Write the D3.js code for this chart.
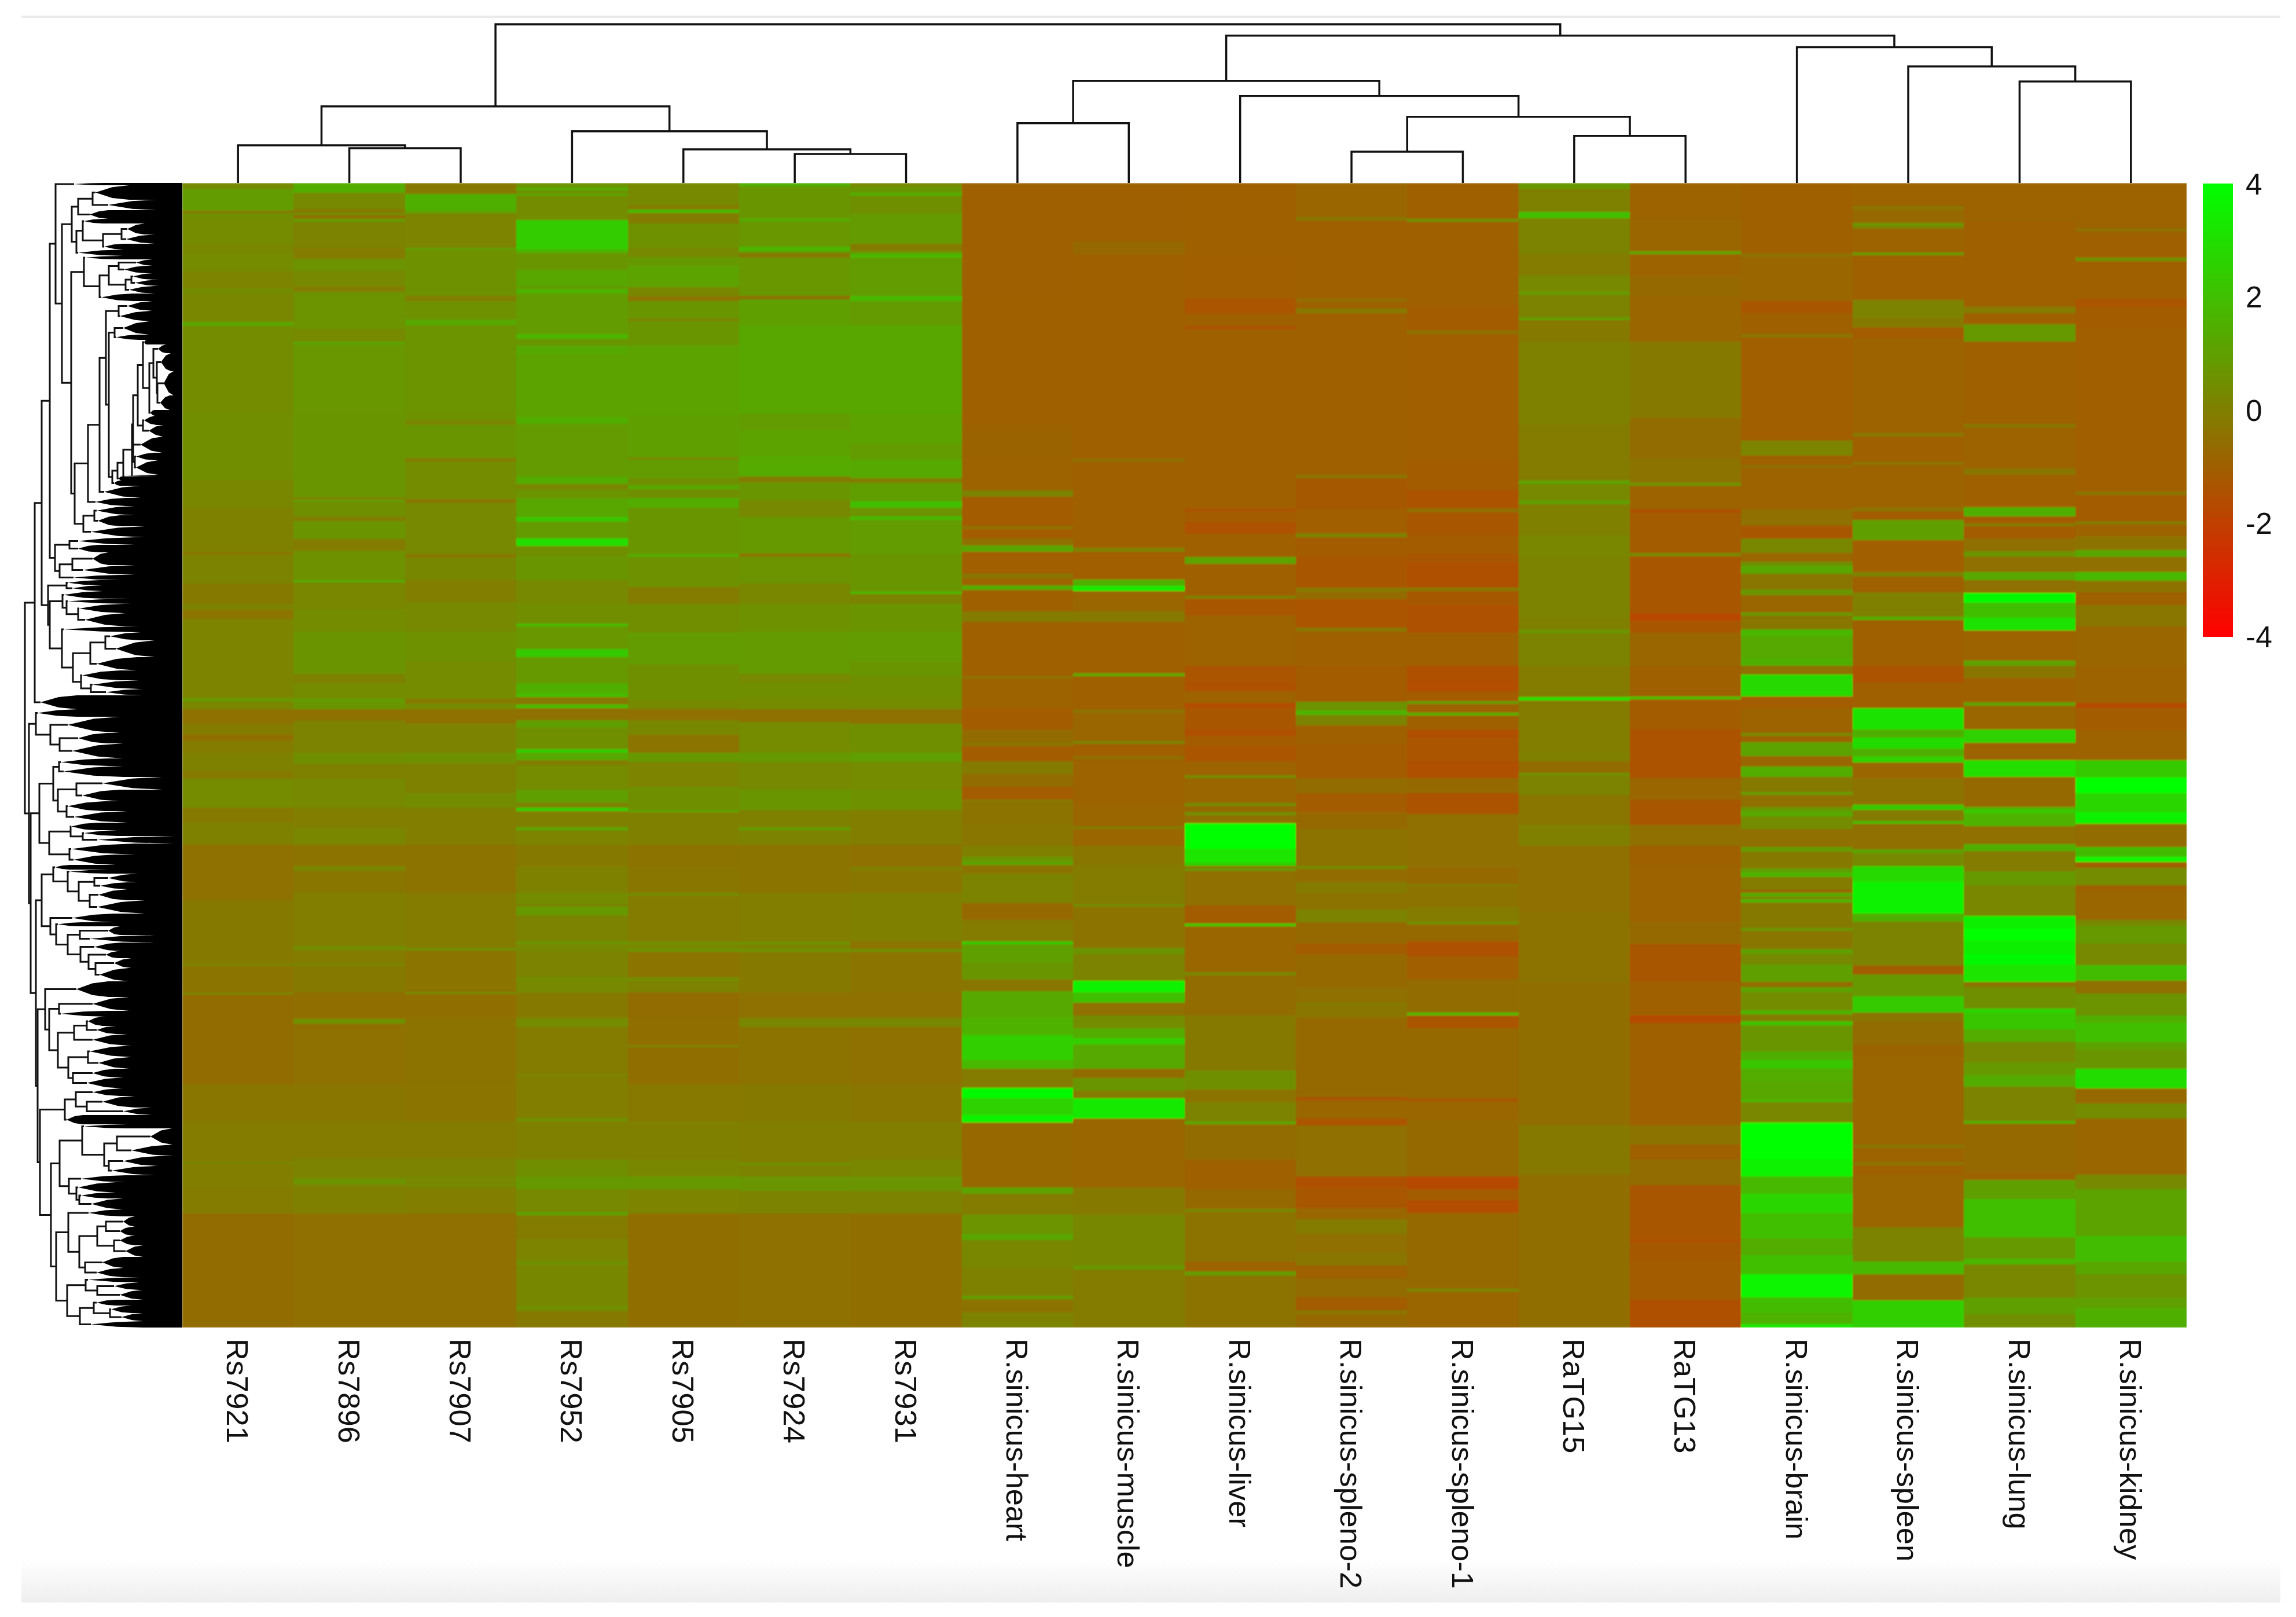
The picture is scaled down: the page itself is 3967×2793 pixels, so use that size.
<!DOCTYPE html>
<html>
<head>
<meta charset="utf-8">
<script src="https://cdn.jsdelivr.net/npm/d3@7"></script>
<style>
html, body { margin: 0; padding: 0; background: #fff; }
text { font-family: "Liberation Sans", Arial, sans-serif; fill: #111; }
</style>
</head>
<body>
<div id="chart"></div>
<script>
var columnNames = ["Rs7921", "Rs7896", "Rs7907", "Rs7952", "Rs7905", "Rs7924", "Rs7931",
    "R.sinicus-heart", "R.sinicus-muscle", "R.sinicus-liver", "R.sinicus-spleno-2", "R.sinicus-spleno-1",
    "RaTG15", "RaTG13", "R.sinicus-brain", "R.sinicus-spleen", "R.sinicus-lung", "R.sinicus-kidney"];
var legendTicks = [4, 2, 0, -2, -4];

// column tree: [height, left, right], a plain number is a column index
var columnTree = [273.5,
    [132, [65, 0, [60, 1, 2]], [89, 3, [58, 4, [50, 5, 6]]]],
    [254,
        [176, [103, 7, 8], [150, 9, [114, [54, 10, 11], [81, 12, 13]]]],
        [234, 14, [201, 15, [175, 16, 17]]]]];

// row tree: [height, a, b], a leaf cluster is [firstRow, lastRow, tipHeight, solidHeight]
var rowTreeA = [255,
    [243,
        [229,
            [219, [0, 4, 187, 135],
                [208,
                    [191,
                        [180, [155, [4, 29, 150, 92], [29, 47, 128, 45]], [47, 62, 160, 128]],
                        [183, [172, [62, 70, 170, 138], [137, [105, [70, 89, 95, 65], [89, 105, 97, 48]], [105, 115, 135, 102]]], [115, 126, 180, 102]]],
                    [192,
                        [170, [126, 132, 168, 108],
                            [143,
                                [127,
                                    [110, [132, 143, 80, 52], [143, 156, 100, 62]],
                                    [98, [88, [156, 167, 85, 52], [167, 178, 82, 40]], [178, 191, 92, 48]]],
                                [191, 204, 140, 85]]],
                        [186,
                            [163,
                                [143,
                                    [132,
                                        [110, [204, 221, 95, 52], [221, 239, 108, 55]],
                                        [127,
                                            [117, [239, 262, 102, 58], [262, 271, 115, 75]],
                                            [121,
                                                [112,
                                                    [102,
                                                        [87,
                                                            [85,
                                                                [77,
                                                                    [68, [271, 279, 66, 62],
                                                                        [57,
                                                                            [50, [279, 294, 42, 28], [44, [294, 325, 37, 20], [43, [325, 367, 32, 15], [367, 392, 38, 22]]]],
                                                                            [392, 402, 55, 48]]],
                                                                    [68, [402, 418, 66, 45], [418, 438, 58, 33]]],
                                                                [85, [438, 466, 72, 35], [82, [466, 479, 80, 48], [479, 504, 80, 42]]]],
                                                            [504, 505, 86, 42]],
                                                        [505, 507, 100, 42]],
                                                    [507, 514, 110, 105]],
                                                [514, 523, 118, 108]]]],
                                    [523, 544, 135, 72]],
                                [544, 558, 150, 98]],
                            [171, [152, [558, 574, 148, 82], [574, 593, 146, 108]], [593, 612, 158, 65]]]]]],
            [220,
                [195, [612, 625, 180, 82], [625, 638, 180, 144]],
                [212, [190, [638, 660, 155, 128], [660, 677, 172, 82]], [677, 686, 188, 108]]]],
        [232,
            [200, [686, 695, 198, 142], [695, 705, 190, 138]],
            [229,
                [207, [705, 718, 205, 138], [200, [718, 727, 198, 88], [180, [727, 743, 178, 102], [743, 766, 168, 98]]]],
                [208, [766, 776, 205, 75],
                    [189,
                        [159, [133, [776, 790, 125, 72], [790, 819, 115, 48]], [819, 842, 148, 78]],
                        [175, [842, 859, 173, 108], [158, [859, 874, 155, 75], [874, 885, 132, 68]]]]]]]],
    [885, 909, 245, 182]];

var rowTreeC = [253, [909, 922, 250, 182],
    [228, [922, 950, 198, 108], [212, [950, 968, 180, 130], [968, 994, 190, 102]]]];

var rowTreeE = [247,
    [223,
        [213, [994, 1007, 210, 128], [1007, 1026, 205, 102]],
        [215,
            [183, [1026, 1048, 138, 35], [1048, 1068, 173, 108]],
            [200, [1068, 1085, 198, 135], [1085, 1105, 187, 95]]]],
    [230,
        [193, [1105, 1118, 192, 148], [172, [1118, 1128, 170, 112], [1128, 1141, 147, 15]]],
        [195, [1141, 1160, 192, 82], [1160, 1178, 188, 115]]]];

var rowTreeG = [243,
    [223, [1178, 1186, 220, 195],
        [198, [1186, 1193, 195, 128],
            [179,
                [152, [1193, 1208, 128, 77], [1208, 1220, 142, 95]],
                [160, [1220, 1239, 145, 95], [1239, 1262, 147, 65]]]]],
    [228, [1262, 1277, 190, 118],
        [218, [1277, 1284, 215, 175],
            [198,
                [177, [1284, 1299, 128, 108], [1299, 1312, 160, 48]],
                [176, [1312, 1327, 152, 105],
                    [162, [1327, 1339, 132, 112], [150, [1339, 1356, 118, 88], [1356, 1379, 143, 93]]]]]]]];

var rowTreeI = [237, [1379, 1406, 183, 128],
    [230,
        [213, [1406, 1430, 155, 92], [1430, 1440, 210, 132]],
        [215,
            [187, [165, [1440, 1456, 163, 138], [1456, 1470, 148, 115]], [1470, 1490, 155, 95]],
            [197,
                [163, [1490, 1510, 160, 87], [1510, 1530, 145, 92]],
                [189, [1530, 1545, 155, 115], [1545, 1564, 165, 102]]]]]];

var rowTreeK = [203,
    [184, [1564, 1577, 155, 108], [165, [1577, 1597, 138, 82], [1597, 1610, 102, 52]]],
    [1610, 1626, 200, 172]];

var rowTreeM = [212,
    [173, [1626, 1633, 170, 95],
        [135,
            [113, [1633, 1661, 55, 18], [1661, 1681, 88, 15]],
            [127, [1681, 1698, 102, 42], [1698, 1714, 122, 48]]]],
    [196, [1714, 1726, 175, 98],
        [183, [1726, 1744, 180, 115], [178, [1744, 1754, 175, 128], [1754, 1773, 157, 102]]]]];

var rowTreeN = [218,
    [197, [1773, 1785, 162, 105],
        [178,
            [147,
                [132, [1785, 1803, 102, 82], [1803, 1818, 108, 88]],
                [118, [1818, 1835, 108, 82], [1835, 1855, 98, 68]]],
            [168, [1855, 1874, 138, 102], [1874, 1890, 148, 102]]]],
    [199,
        [167, [1890, 1899, 163, 75], [147, [1899, 1912, 118, 75], [1912, 1929, 108, 68]]],
        [177,
            [153, [1929, 1939, 148, 115], [125, [1939, 1952, 123, 88], [1952, 1966, 105, 68]]],
            [1966, 1977, 158, 68]]]];

var rowTree = [272, rowTreeA,
    [265, rowTreeC,
        [262, rowTreeE,
            [253, rowTreeG,
                [250, rowTreeI,
                    [246, rowTreeK, [227, rowTreeM, rowTreeN]]]]]]];

// heat bands, [row position, value]; each band runs to the next one
// the seven Rs columns are read with a split at one row, the others with a split at another
var rs7921Upper = [[25,.3],[40,.9],[100,-.3],[106,.5],[120,.35],[190,.2],[215,.35],[265,.15],[310,.4],[325,.2],[402,1.2],[412,.4],[650,.45],[830,.2],[905,.05],[1025,-.4],[1032,.1],[1110,-.2],[1165,.1],[1180,-.35],[1205,.15],[1320,.15],[1420,.9],[1428,.2],[1450,-.45],[1490,-.1],[1520,-.55],[1535,-.1]];
var rs7921Lower = [[0,.05],[50,-.2],[70,.35],[150,-.2],[190,.05],[250,-.45],[400,-.2],[573,.3],[578,-.35],[652,.3],[657,-.6],[900,-.3],[1000,-.1],[1110,.3],[1116,-.05],[1180,-.15],[1250,-.6]];
var rs7896Upper = [[25,1.4],[52,.3],[95,-.2],[105,.3],[113,-.5],[122,1],[130,.1],[200,-.15],[230,.6],[262,.3],[305,-.15],[320,.6],[420,.3],[455,1.1],[463,.75],[650,.7],[878,-.4],[883,1.2],[888,.5],[930,-.1],[940,.65],[990,-.1],[1020,.55],[1100,1.4],[1107,.2],[1180,.4],[1240,.65],[1355,.05],[1380,.4],[1422,1],[1430,.7],[1450,-.45],[1482,.1]];
var rs7896Lower = [[0,.5],[30,.05],[70,.3],[150,-.05],[205,.2],[250,-.4],[308,.25],[320,-.3],[380,-.05],[525,.45],[535,-.1],[570,.1],[580,-.2],[650,-.55],[722,.6],[735,-.45],[900,-.3],[1000,-.1],[1100,.1],[1155,.6],[1172,.1],[1180,0],[1250,-.5]];
var rs7907Upper = [[25,-.2],[55,1.5],[100,1],[108,.15],[200,.9],[208,.55],[330,-.05],[345,.55],[395,1.3],[410,.6],[650,.55],[668,.2],[680,.7],[770,-.1],[780,.4],[882,-.45],[890,.3],[1030,-.3],[1040,.25],[1100,-.05],[1160,.3],[1240,.55],[1320,.35],[1422,-.25],[1435,.35],[1450,-.45],[1490,.1]];
var rs7907Lower = [[0,.55],[30,.05],[110,.4],[150,-.05],[250,-.4],[380,-.1],[530,.5],[537,-.35],[650,.5],[655,-.55],[720,-.4],[900,-.35],[1000,-.1],[1100,.1],[1150,.3],[1180,-.05],[1250,-.5]];
var rs7952Upper = [[25,.6],[38,1.4],[46,.5],[54,1.2],[60,.4],[125,2.4],[205,1.6],[215,.7],[260,1.2],[305,.8],[312,1.6],[325,.9],[435,1.7],[447,.7],[465,1.3],[490,1.1],[660,1.5],[678,.85],[820,1.4],[840,.2],[855,.6],[878,1.2],[930,2.2],[942,.85],[988,3],[1008,.5],[1035,.7],[1100,.3],[1165,.45],[1218,1.8],[1226,.75],[1288,2.3],[1310,.8],[1380,1.5],[1410,2],[1418,-.25],[1438,2],[1448,-.45],[1480,1],[1500,.5],[1558,2.4]];
var rs7952Lower = [[0,1.3],[20,-.05],[35,.35],[100,1],[135,.1],[150,2.4],[158,0],[202,1.3],[210,.15],[250,-.2],[310,.05],[380,.4],[410,.1],[418,.8],[442,.1],[512,.8],[518,.3],[540,.1],[610,.4],[620,.3],[650,-.2],[720,.35],[745,-.1],[870,.1],[880,-.05],[992,.55],[1000,0],[1105,.5],[1150,.8],[1185,.3],[1248,1.2],[1255,-.1],[1320,.15],[1378,.5],[1390,.25],[1500,.5],[1515,-.2]];
var rs7905Upper = [[25,.3],[85,-.1],[97,1.8],[107,-.1],[135,.55],[200,.3],[225,.8],[250,1.1],[308,.2],[332,-.4],[345,.7],[392,.1],[400,.7],[465,1.1],[655,1],[768,.2],[775,.9],[825,.5],[843,1.3],[855,.5],[878,1.4],[905,.7],[1030,1.4],[1038,.55],[1120,-.1],[1165,.45],[1243,1],[1250,.9],[1330,.5],[1425,.3],[1450,-.5],[1480,.25],[1520,-.35]];
var rs7905Lower = [[0,.8],[25,.15],[95,.6],[102,.5],[155,1.1],[162,0],[250,-.4],[310,-.3],[380,.4],[388,-.1],[513,.65],[520,.2],[533,.65],[540,-.35],[610,.4],[620,.1],[650,-.6],[720,-.55],[793,.15],[800,-.55],[900,-.25],[1000,0],[1105,.2],[1150,.8],[1185,.15],[1250,-.55]];
var rs7924Upper = [[25,1.5],[35,.7],[120,1.3],[130,.75],[198,1.7],[210,.75],[215,-.2],[228,.75],[330,-.45],[340,1],[410,1.2],[650,.9],[695,1.1],[765,1.35],[820,-.1],[835,.7],[885,.3],[930,.8],[1028,-.35],[1038,.6],[1110,.2],[1165,.55],[1240,.85],[1355,.3],[1380,.5],[1420,.35],[1450,-.45],[1485,.35]];
var rs7924Lower = [[0,.8],[25,.3],[100,.7],[155,.05],[203,1],[210,.1],[250,-.35],[380,-.05],[513,.65],[520,.1],[532,.65],[540,-.2],[650,-.45],[720,.2],[745,-.4],[900,-.2],[1000,-.05],[1113,.55],[1120,.1],[1150,.7],[1190,.1],[1250,-.45]];
var rs7931Upper = [[25,.2],[35,.7],[52,1.5],[60,.5],[110,.85],[190,-.1],[210,.9],[218,1.8],[228,.9],[330,1.8],[345,.85],[410,1.25],[650,1.1],[730,.9],[775,1.3],[825,-.1],[838,.95],[888,2],[905,.6],[928,1.8],[937,.9],[1030,.7],[1132,1.8],[1139,.1],[1165,.65],[1240,.9],[1320,.7],[1360,.5],[1420,.4],[1450,-.45],[1490,.5]];
var rs7931Lower = [[0,1],[25,.35],[100,.55],[155,-.05],[250,-.45],[310,0],[320,-.3],[380,0],[510,-.35],[532,.55],[540,-.35],[650,-.45],[720,.25],[745,-.45],[900,-.3],[1000,-.05],[1105,.2],[1150,.65],[1190,.1],[1250,-.55]];

var heartUpper = [[432,-.95],[700,-1],[1000,-.85],[1080,-.9],[1155,.1],[1170,-1.1],[1240,-.4],[1246,-1.15],[1268,-.5],[1285,1.2],[1300,-1.05],[1352,-.3],[1362,-.9],[1378,1.4],[1390,-.9],[1395,-1],[1440,-.1],[1465,-1]];
var heartLower = [[0,-1],[25,-.4],[30,-.9],[100,-1.15],[150,-.6],[180,-.4],[190,-1.15],[225,-.1],[255,-.6],[285,-1.15],[315,-.2],[320,-.4],[375,-.3],[425,0],[450,.7],[463,1.2],[470,-.4],[490,.1],[560,-.7],[600,-.1],[650,2.3],[657,1],[700,.7],[740,-.3],[768,1.3],[830,1.6],[872,2.5],[930,1.8],[950,-.1],[995,3.8],[1020,2.6],[1060,3.6],[1078,-.75],[1230,1.1],[1245,-.1],[1295,.6],[1340,1.2],[1355,.2],[1420,.05],[1486,1],[1494,-.4],[1525,.1]];
var muscleUpper = [[432,-.95],[570,-.7],[600,-1],[1080,-.5],[1088,-1],[1290,.1],[1300,-1.05],[1365,1.5],[1380,3.3],[1392,-.8],[1440,-.2],[1465,-1]];
var muscleLower = [[0,-1],[18,1.3],[24,-1],[104,-.3],[110,-.8],[178,.1],[185,-1.05],[213,-.5],[220,-.9],[330,-.8],[378,-.1],[385,-.8],[425,-.3],[470,-.1],[562,.5],[568,-.4],[665,.6],[680,.1],[743,3.6],[770,2],[795,-.5],[825,.4],[855,1.4],[878,2.5],[893,1.3],[950,-.6],[973,.7],[1003,-.1],[1020,3.3],[1068,-.8],[1230,-.2],[1295,.25],[1415,.8],[1425,-.1]];
var liverUpper = [[432,-1],[600,-1.05],[705,-1.35],[740,-1],[768,-1.4],[776,-1],[1150,-1],[1198,-1.4],[1205,-1.1],[1230,-1.45],[1258,-1],[1312,1.1],[1328,-1],[1403,.1],[1410,-1.3],[1450,-.9]];
var liverLower = [[0,-1.35],[40,-1.45],[60,-.9],[88,-1.6],[100,-1.3],[150,-1.5],[165,-1.15],[190,-1.35],[225,-.9],[258,.4],[265,-.8],[323,.5],[330,-.7],[346,.6],[353,-.5],[372,4],[432,3.2],[465,2.4],[473,-.5],[478,1],[484,-.5],[565,-1.1],[608,2.2],[615,-.8],[723,.2],[730,-.6],[825,-.2],[955,.5],[1000,-.4],[1030,.1],[1075,1.2],[1082,-.6],[1165,-1],[1235,-.7],[1281,.3],[1288,-.4],[1405,-.9],[1428,.9],[1438,-.4]];
var spleno2Upper = [[432,-.8],[513,-.2],[520,-1],[703,-.6],[712,-1],[728,-.2],[738,-1],[1118,-.3],[1126,-1.2],[1200,-1.05],[1256,.1],[1266,-1.1],[1310,-1.3],[1384,-.2],[1394,-.6],[1412,-1.35],[1478,-.3],[1488,-1]];
var spleno2Lower = [[0,-1.1],[85,.6],[105,1.6],[116,.1],[140,-1],[185,-1.15],[265,-.6],[300,-1.15],[345,-.7],[385,-.4],[473,.4],[480,-.6],[510,-.1],[535,-.4],[575,.1],[605,-.7],[655,-1.15],[680,-.7],[760,-.5],[795,-.1],[800,-.3],[830,-.7],[1018,-1.35],[1025,-.8],[1068,-1.35],[1085,-.5],[1205,-1.5],[1230,-1.3],[1280,-.8],[1305,-.1],[1340,-.5],[1385,-.3],[1415,-1],[1445,-.6],[1490,-1.1],[1520,-.3],[1530,-.7]];
var spleno1Upper = [[432,-1],[517,.6],[523,-1],[720,-1.15],[780,-.4],[788,-1.05],[1080,-1.15],[1155,-1.4],[1198,-.5],[1207,-1.3],[1262,-1.15],[1305,-1.3],[1325,-1.5],[1384,-.2],[1392,-1.2],[1425,-1.45],[1490,-1]];
var spleno1Lower = [[0,-1.5],[35,-1.6],[60,-1.1],[83,.9],[90,-.9],[110,1.5],[118,-1],[150,-1.5],[170,-1.35],[225,-1.5],[265,-.7],[300,-1.4],[350,-.5],[475,-.7],[515,-.1],[520,-.4],[570,-.1],[603,.5],[610,-.7],[650,-1.45],[685,-1.05],[740,-.6],[818,1.8],[825,-1.35],[855,-.7],[1020,-1.2],[1028,-.8],[1070,-.7],[1205,-1.7],[1235,-1.15],[1260,-1.6],[1290,-.7],[1469,.2],[1476,-.8]];
var ratg15Upper = [[432,.8],[445,.05],[500,2],[515,.1],[600,-.1],[650,.3],[688,.9],[695,.1],[748,1],[755,-.2],[805,.05],[1000,-.1],[1132,1.1],[1140,.3],[1178,1],[1188,0],[1260,.2],[1310,.1],[1455,0],[1484,.7],[1492,.1]];
var ratg15Lower = [[0,-.15],[74,3],[82,-.1],[130,-.05],[205,0],[225,-.6],[252,.6],[258,.1],[305,-.3],[375,0],[425,-.5],[580,-.4],[745,-.55],[1085,-.2],[1200,-.55]];
var ratg13Upper = [[432,-.9],[518,-.8],[593,1.2],[600,-.9],[650,-.7],[700,-.8],[805,-.2],[985,-.6],[1080,-.4],[1138,.7],[1145,-.9],[1200,-1.5],[1208,-1.1],[1303,.3],[1310,-1.3],[1445,-1.8],[1462,-1.3],[1490,-.8]];
var ratg13Lower = [[0,-1],[72,2],[79,-1.15],[150,-1.4],[265,-.8],[315,-1.3],[375,-.5],[425,-1],[470,-.9],[605,-.7],[655,-1.3],[745,-1],[825,-1.7],[842,-1],[1085,-.4],[1130,-1],[1165,-.6],[1225,-1.3],[1353,-1.5],[1360,-1.2],[1405,-1.15],[1495,-1.5]];
var brainUpper = [[432,-1],[598,-.4],[606,-.8],[710,-1.3],[738,-1],[788,-.3],[796,-1.05],[1038,.15],[1073,-1],[1095,-.5],[1102,-.9],[1200,-.5],[1238,-1.3],[1268,.2],[1303,-.8],[1323,.5],[1332,1.2],[1352,-.3],[1388,.7],[1402,-.8],[1443,.9],[1450,-.3],[1482,1.7],[1498,1.3],[1550,1.5]];
var brainLower = [[0,-.5],[20,2.8],[72,-1.1],[100,-.9],[158,.4],[165,-.9],[180,1.1],[213,-.8],[238,1.4],[262,-.2],[298,.9],[305,-.5],[333,.7],[343,1.3],[355,.4],[385,-.5],[428,.9],[438,-.2],[478,1],[488,1.6],[498,-.1],[528,-.9],[535,1.3],[545,-.1],[550,1.6],[558,-.2],[618,.7],[625,-.3],[668,1],[680,.3],[705,1],[745,-.6],[758,1.1],[770,.4],[813,1.6],[822,-.1],[838,2.1],[848,.7],[910,1.5],[930,2.2],[950,1.4],[980,1.2],[1022,1.6],[1030,.2],[1078,4],[1165,3.6],[1205,1.8],[1245,2.7],[1290,2],[1350,1.4],[1390,2],[1435,3.7],[1490,1.9],[1525,1.6],[1553,3.2]];
var spleenUpper = [[432,-.9],[486,-.3],[494,-.7],[526,.7],[533,.1],[540,-.9],[595,.8],[602,-1],[707,.1],[750,-.2],[772,-1.15],[798,-.9],[1020,-.2],[1028,-1],[1088,-.3],[1096,-.9],[1196,-.3],[1204,-1.1],[1225,1],[1272,-1.05],[1348,.1],[1358,-1],[1395,0],[1452,1.5],[1460,-1]];
var spleenLower = [[0,-1.4],[40,-1],[100,3.1],[150,1.5],[170,2.9],[195,1.5],[215,2.6],[228,-.8],[265,-.4],[328,2.3],[340,-.1],[366,1.9],[373,-.5],[433,1.1],[443,.3],[472,2.8],[510,3.6],[585,1.5],[603,.1],[708,-1.1],[728,.8],[780,2.3],[818,-.3],[840,-.6],[895,-.85],[920,-.8],[1130,-.3],[1138,-.9],[1170,-.4],[1178,-1],[1200,-.8],[1325,.1],[1405,1.8],[1435,-.6],[1497,2.5]];
var lungUpper = [[432,-.9],[520,-1],[723,-.1],[738,-1],[765,.8],[805,-1],[998,-.3],[1008,-.9],[1103,-.3],[1118,-1],[1195,1.5],[1217,-1.1],[1233,-.1],[1240,-1.1],[1268,-.5],[1298,.6],[1312,-.5],[1348,1.3],[1367,-.5],[1397,3.8],[1420,2],[1455,3.1],[1485,-.9],[1556,1.1]];
var lungLower = [[0,-.3],[28,-1],[86,1.1],[94,-.8],[150,2.6],[182,-.9],[222,3],[262,-.7],[333,1.6],[340,2.5],[347,1.6],[378,-.5],[420,1.5],[437,-.1],[485,.8],[518,.2],[590,3.5],[620,4],[648,3.5],[680,3.8],[705,3.2],[745,-.4],[758,.5],[808,2.6],[820,2.2],[858,1.4],[888,.3],[935,.8],[965,1.4],[993,.1],[1073,1.5],[1080,-.7],[1195,-.9],[1213,1],[1258,2],[1348,.8],[1398,1.7],[1412,.2],[1490,1],[1530,.5]];
var kidneyUpper = [[432,-.9],[538,-.5],[546,-.95],[608,.6],[616,-1],[705,-1.35],[723,-1.1],[773,-1.05],[1158,-.3],[1166,-1.1],[1228,-.2],[1236,-.9],[1263,-.4],[1295,1.2],[1312,-.5],[1348,1.8],[1368,-.4],[1395,-1],[1425,-.3],[1475,-.8]];
var kidneyLower = [[0,-.9],[88,-1.65],[100,-1.1],[155,-.9],[222,2.3],[263,4],[300,2.7],[345,3.6],[373,-.6],[428,1.9],[450,3.7],[463,-1.05],[477,.4],[518,-1],[530,-.8],[600,.3],[613,.8],[655,.3],[706,1.9],[743,-.5],[773,.6],[825,1.5],[843,2],[888,1.1],[905,.7],[950,2.9],[997,-.7],[1033,.4],[1068,-.8],[1200,.3],[1235,1.1],[1345,1.9],[1405,1.2],[1435,.6],[1490,1],[1515,1.5]];

var columnBands = [
    [rs7921Upper, rs7921Lower], [rs7896Upper, rs7896Lower], [rs7907Upper, rs7907Lower], [rs7952Upper, rs7952Lower],
    [rs7905Upper, rs7905Lower], [rs7924Upper, rs7924Lower], [rs7931Upper, rs7931Lower],
    [heartUpper, heartLower], [muscleUpper, muscleLower], [liverUpper, liverLower], [spleno2Upper, spleno2Lower],
    [spleno1Upper, spleno1Lower], [ratg15Upper, ratg15Lower], [ratg13Upper, ratg13Lower], [brainUpper, brainLower],
    [spleenUpper, spleenLower], [lungUpper, lungLower], [kidneyUpper, kidneyLower]];

function drawHeatmap() {
    var width = 3967, height = 2793;
    var heatLeft = 315, heatRight = 3778, heatTop = 316, heatBottom = 2293;
    var svg = d3.select("#chart").append("svg").attr("width", width).attr("height", height);

    var defs = svg.append("defs");
    var fade = defs.append("linearGradient").attr("id", "fade").attr("x1", 0).attr("x2", 0).attr("y1", 0).attr("y2", 1);
    fade.append("stop").attr("offset", 0).attr("stop-color", "#ffffff");
    fade.append("stop").attr("offset", 1).attr("stop-color", "#eeeeee");
    // the source picture is a little soft
    defs.append("filter").attr("id", "soft")
        .attr("filterUnits", "userSpaceOnUse")
        .attr("x", heatLeft).attr("y", heatTop).attr("width", heatRight - heatLeft).attr("height", heatBottom - heatTop)
        .append("feGaussianBlur").attr("stdDeviation", "0.8 1.6");

    // page edges of the screenshot
    svg.append("rect").attr("x", 37).attr("y", 27).attr("width", 3903).attr("height", 4).attr("fill", "#ece9ec");
    svg.append("rect").attr("x", 37).attr("y", 2693).attr("width", 3903).attr("height", 75).attr("fill", "url(#fade)");

    var color = d3.scaleLinear().domain([-4, 4]).range(["#ff0000", "#00ff00"]);
    var x = d3.scaleBand().domain(d3.range(columnNames.length)).range([heatLeft, heatRight]);

    // the two halves of a column, split where the rows were read
    var rsUpper = d3.scaleLinear().domain([25, 1568]).range([heatTop, 1300]);
    var rsLower = d3.scaleLinear().domain([0, 1560]).range([1300, heatBottom]);
    var restUpper = d3.scaleLinear().domain([432, 1568]).range([heatTop, 1150]);
    var restLower = d3.scaleLinear().domain([0, 1561]).range([1150, heatBottom]);

    var heat = svg.append("g").attr("shape-rendering", "crispEdges").attr("filter", "url(#soft)");
    columnBands.forEach(function(parts, i) {
        var scales = i < 7 ? [rsUpper, rsLower] : [restUpper, restLower];
        parts.forEach(function(bands, p) {
            heat.selectAll(".c" + i + "p" + p)
                .data(bands)
                .enter().append("rect")
                .attr("class", "c" + i + "p" + p)
                .attr("x", x(i))
                .attr("width", x.bandwidth() + 0.5)
                .attr("y", function(d) { return scales[p](d[0]); })
                .attr("height", function(d, j) {
                    var end = j < bands.length - 1 ? scales[p](bands[j + 1][0]) : scales[p].range()[1];
                    return end - scales[p](d[0]) + 0.5;
                })
                .attr("fill", function(d) { return color(d[1]); });
        });
    });

    // column dendrogram
    var colHeight = d3.scaleLinear().domain([0, 273.5]).range([heatTop, 42]);
    var colLines = svg.append("g").attr("fill", "none").attr("stroke", "#111").attr("stroke-width", 3.5);
    function layoutColumn(node) {
        if (typeof node === "number") {
            return { x: x(node) + x.bandwidth() / 2, h: 0 };
        }
        var a = layoutColumn(node[1]);
        var b = layoutColumn(node[2]);
        colLines.append("path").attr("d", "M" + a.x + "," + colHeight(a.h) + "V" + colHeight(node[0]) + "H" + b.x + "V" + colHeight(b.h));
        return { x: (a.x + b.x) / 2, h: node[0] };
    }
    layoutColumn(columnTree);

    // row dendrogram, black wedges for the dense clusters
    var rowY = d3.scaleLinear().domain([0, 1977]).range([heatTop, heatBottom]);
    var rowX = d3.scaleLinear().domain([0, 315]).range([heatLeft, 0]);
    var wedge = d3.line();
    var wedges = svg.append("g");
    var rowLines = svg.append("g").attr("fill", "none").attr("stroke", "#111").attr("stroke-width", 3);
    svg.append("rect").attr("x", rowX(14)).attr("y", heatTop)
        .attr("width", rowX(0) - rowX(14)).attr("height", heatBottom - heatTop).attr("fill", "#000");
    function layoutRow(node) {
        if (node.length === 4) {
            var mid = (node[0] + node[1]) / 2;
            // the cluster swells fast, so only thin white slits stay between clusters
            var halfway = (node[2] + node[3]) / 2;
            wedges.append("path").attr("fill", "#000").attr("d", wedge([
                [rowX(node[2]), rowY(mid)],
                [rowX(halfway), rowY(node[0] + (mid - node[0]) * 0.25)],
                [rowX(node[3]), rowY(node[0])],
                [rowX(0), rowY(node[0])],
                [rowX(0), rowY(node[1])],
                [rowX(node[3]), rowY(node[1])],
                [rowX(halfway), rowY(node[1] - (node[1] - mid) * 0.25)]
            ]) + "Z");
            return { y: mid, h: node[2] };
        }
        var a = layoutRow(node[1]);
        var b = layoutRow(node[2]);
        rowLines.append("path").attr("d", "M" + rowX(a.h) + "," + rowY(a.y) + "H" + rowX(node[0]) + "V" + rowY(b.y) + "H" + rowX(b.h));
        return { y: (a.y + b.y) / 2, h: node[0] };
    }
    layoutRow(rowTree);

    // column labels
    svg.append("g").selectAll("text")
        .data(columnNames)
        .enter().append("text")
        .attr("transform", function(d, i) {
            return "translate(" + (x(i) + x.bandwidth() / 2) + ",2312) rotate(90)";
        })
        .attr("dy", "0.36em")
        .attr("font-size", 52.5)
        .text(function(d) { return d; });

    // legend
    var legendY = d3.scaleLinear().domain([4, -4]).range([317, 1099]);
    var legendSteps = d3.range(4, -4, -0.1);
    svg.append("g").attr("shape-rendering", "crispEdges").selectAll("rect")
        .data(legendSteps)
        .enter().append("rect")
        .attr("x", 3806)
        .attr("width", 52)
        .attr("y", function(d) { return legendY(d); })
        .attr("height", legendY(0) - legendY(0.1) + 1)
        .attr("fill", function(d) { return color(d - 0.05); });
    svg.append("g").selectAll("text")
        .data(legendTicks)
        .enter().append("text")
        .attr("x", 3880)
        .attr("y", function(d) { return legendY(d); })
        .attr("dy", "0.36em")
        .attr("font-size", 51.5)
        .text(function(d) { return d; });
}

drawHeatmap();
</script>
</body>
</html>
